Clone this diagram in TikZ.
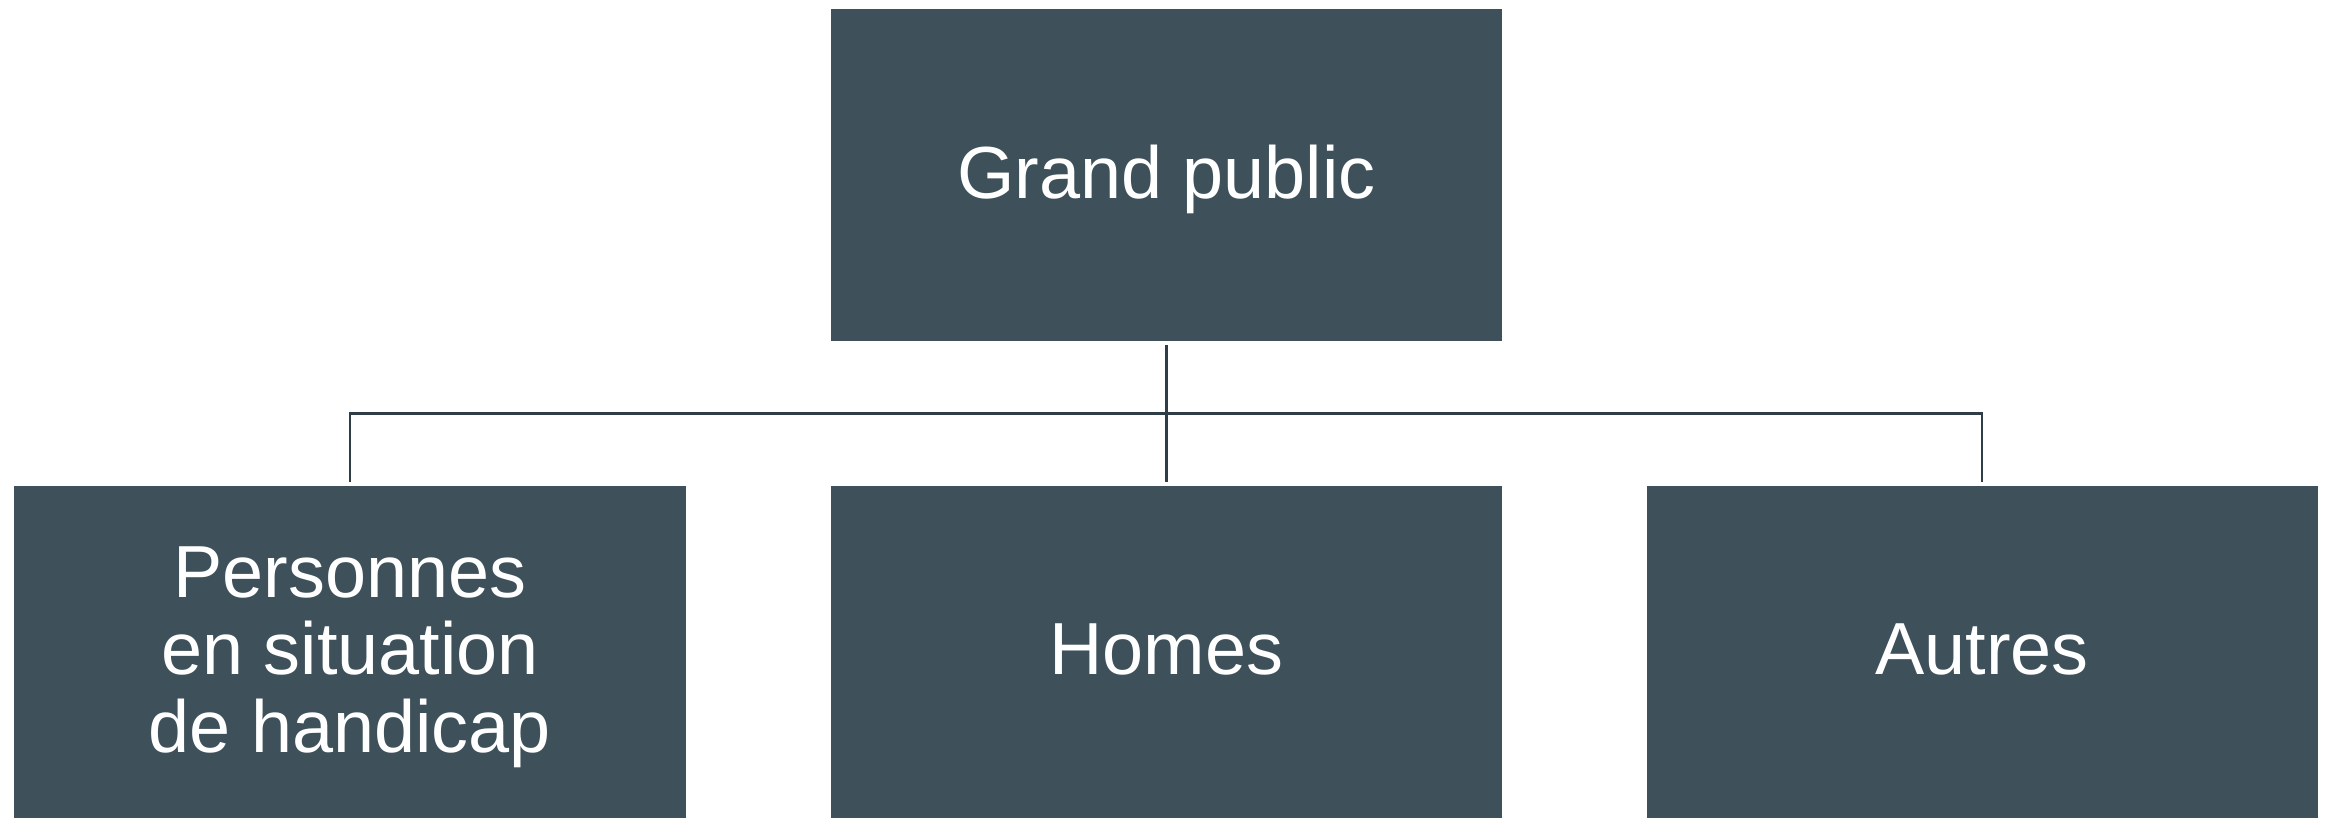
\documentclass[tikz,border=0pt]{standalone}
\usepackage{fontspec}
\setmainfont{Liberation Sans}
\usetikzlibrary{calc}
\definecolor{slate}{RGB}{62,81,91}
\definecolor{wire}{RGB}{47,62,70}
\tikzset{
	box/.style={fill=slate, text=white, inner sep=0pt, minimum width=6.71cm, minimum height=3.32cm, text depth=0.06cm, align=center, font=\fontsize{21}{22}\selectfont},
	link/.style={draw=wire, line width=0.7pt, shorten <=1pt, shorten >=1pt}
}

\begin{document}
\begin{tikzpicture}
			%%%%% START %%%%%
			\useasboundingbox (0, 0) rectangle (23.25, 8.18);
			
			\node[box] (grand) at (11.665, 6.43) {Grand public};
			
			\node[box] (handicap) at (3.50, 1.655) {Personnes\\en situation\\de handicap};
			\node[box] (homes) at (11.665, 1.655) {Homes};
			\node[box] (autres) at (19.82, 1.655) {Autres};
			
			\coordinate (split) at ($(grand.south)+(0, -0.72)$);
			
			\draw[link] (grand.south) -- (split) -| (handicap.north);
			\draw[link] (grand.south) -- (homes.north);
			\draw[link] (grand.south) -- (split) -| (autres.north);
			
			%%%%% END %%%%%
		\end{tikzpicture}
\end{document}
